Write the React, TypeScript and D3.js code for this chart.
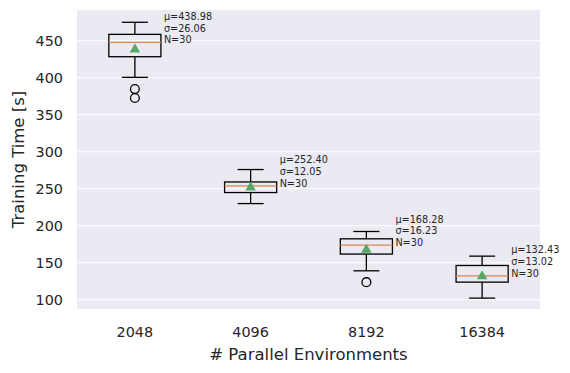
import React, { useEffect, useRef } from "react";
import * as d3 from "d3";

// data
const envCounts = ["2048", "4096", "8192", "16384"];
const whiskerHigh = [474.9, 276.0, 192.3, 159.0];
const q3 = [458.6, 259.2, 182.4, 146.4];
const medians = [447.8, 253.8, 173.9, 132.4];
const q1 = [428.4, 244.9, 161.8, 123.9];
const whiskerLow = [400.5, 230.0, 139.2, 102.3];
const means = [438.98, 252.4, 168.28, 132.43];
const stds = [26.06, 12.05, 16.23, 13.02];
const counts = [30, 30, 30, 30];
const outliers = [[384.7, 372.6], [], [123.9], []];
const yTicks = [100, 150, 200, 250, 300, 350, 400, 450];

const W = 570;
const H = 373;
const margin = { top: 10, right: 30, bottom: 64, left: 77 };

const App = () => {
  const svgRef = useRef<SVGSVGElement>(null);

  useEffect(() => {
    const svg = d3.select(svgRef.current);
    svg.selectAll("*").remove();

    const x0 = margin.left;
    const x1 = W - margin.right;
    const y0 = margin.top;
    const y1 = H - margin.bottom;

    // positions 1..4 with xlim 0.5..4.5 like matplotlib
    const x = d3.scaleLinear().domain([0.5, 4.5]).range([x0, x1]);
    const y = d3.scaleLinear().domain([87.6, 491.5]).range([y1, y0]);
    const font = "'DejaVu Sans', sans-serif";
    const ink = "#262626";

    svg.append("rect")
      .attr("x", x0).attr("y", y0)
      .attr("width", x1 - x0).attr("height", y1 - y0)
      .attr("fill", "#EAEAF2");

    // horizontal grid
    svg.append("g")
      .selectAll("line")
      .data(yTicks)
      .join("line")
      .attr("x1", x0).attr("x2", x1)
      .attr("y1", (d) => y(d)).attr("y2", (d) => y(d))
      .attr("stroke", "#fff").attr("stroke-width", 1.1);

    // y tick labels
    svg.append("g")
      .selectAll("text")
      .data(yTicks)
      .join("text")
      .attr("x", x0 - 14)
      .attr("y", (d) => y(d))
      .attr("dy", "0.36em")
      .attr("text-anchor", "end")
      .attr("font-family", font).attr("font-size", 14.4).attr("fill", ink)
      .text((d) => d);

    // x tick labels
    svg.append("g")
      .selectAll("text")
      .data(envCounts)
      .join("text")
      .attr("x", (_, i) => x(i + 1))
      .attr("y", y1 + 23)
      .attr("dy", "0.36em")
      .attr("text-anchor", "middle")
      .attr("font-family", font).attr("font-size", 14.4).attr("fill", ink)
      .text((d) => d);

    svg.append("text")
      .attr("x", (x0 + x1) / 2).attr("y", y1 + 45)
      .attr("dy", "0.36em")
      .attr("text-anchor", "middle")
      .attr("font-family", font).attr("font-size", 16.5).attr("fill", ink)
      .text("# Parallel Environments");

    svg.append("text")
      .attr("transform", `translate(18,${(y0 + y1) / 2}) rotate(-90)`)
      .attr("dy", "0.36em")
      .attr("text-anchor", "middle")
      .attr("font-family", font).attr("font-size", 16.5).attr("fill", ink)
      .text("Training Time [s]");

    const boxW = x(1.225) - x(1);
    const capW = boxW / 2;

    envCounts.forEach((_, i) => {
      const cx = x(i + 1);
      const g = svg.append("g").attr("stroke", "#000").attr("stroke-width", 1.3).attr("fill", "none");

      // whiskers + caps
      g.append("line").attr("x1", cx).attr("x2", cx).attr("y1", y(q3[i])).attr("y2", y(whiskerHigh[i]));
      g.append("line").attr("x1", cx).attr("x2", cx).attr("y1", y(q1[i])).attr("y2", y(whiskerLow[i]));
      g.append("line").attr("x1", cx - capW).attr("x2", cx + capW).attr("y1", y(whiskerHigh[i])).attr("y2", y(whiskerHigh[i]));
      g.append("line").attr("x1", cx - capW).attr("x2", cx + capW).attr("y1", y(whiskerLow[i])).attr("y2", y(whiskerLow[i]));

      // box
      g.append("rect")
        .attr("x", cx - boxW).attr("y", y(q3[i]))
        .attr("width", boxW * 2).attr("height", y(q1[i]) - y(q3[i]));

      // median
      svg.append("line")
        .attr("x1", cx - boxW).attr("x2", cx + boxW)
        .attr("y1", y(medians[i])).attr("y2", y(medians[i]))
        .attr("stroke", "#DD8452").attr("stroke-width", 1.3);

      // outliers
      g.selectAll("circle.out")
        .data(outliers[i])
        .join("circle")
        .attr("cx", cx).attr("cy", (d) => y(d)).attr("r", 4.4);

      // mean marker
      const sym = d3.symbol().type(d3.symbolTriangle).size(48);
      svg.append("path")
        .attr("d", sym()!)
        .attr("transform", `translate(${cx},${y(means[i]) + 0.5})`)
        .attr("fill", "#55A868");

      // annotation
      const t = svg.append("text")
        .attr("font-family", font).attr("font-size", 9.7).attr("fill", ink);
      const lines = [`μ=${means[i].toFixed(2)}`, `σ=${stds[i].toFixed(2)}`, `N=${counts[i]}`];
      const tx = cx + 29;
      const baseY = y(medians[i]) + 1;
      lines.forEach((s, k) => {
        t.append("tspan")
          .attr("x", tx)
          .attr("y", baseY - (2 - k) * 11.8)
          .text(s);
      });
    });
  }, []);

  return (
    <div style={{ width: W, height: H, position: "absolute", left: 0, top: 0 }}>
      <svg ref={svgRef} width={W} height={H}></svg>
    </div>
  );
};

export default App;
